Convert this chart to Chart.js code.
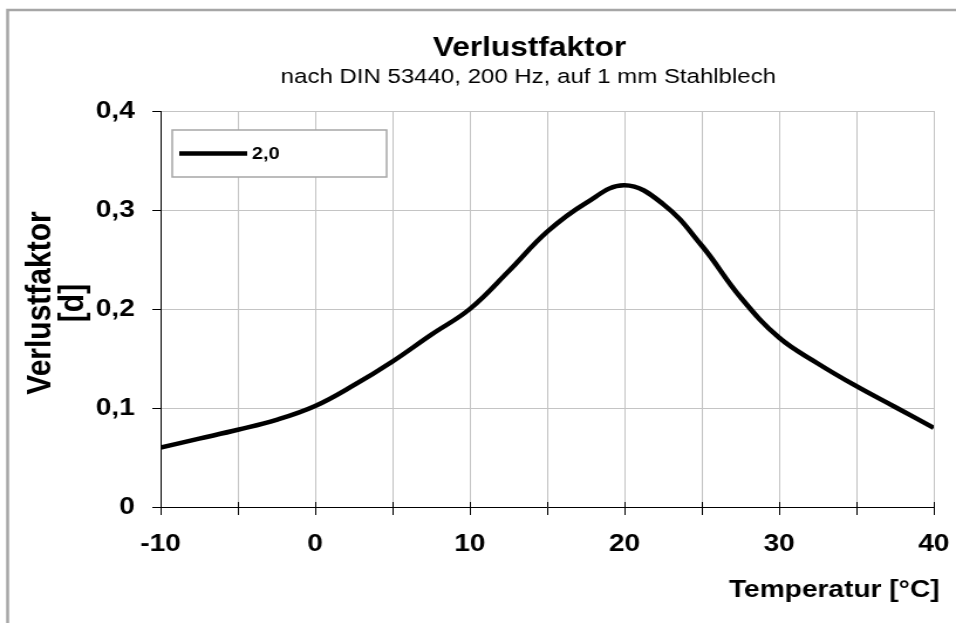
<!DOCTYPE html>
<html>
<head>
<meta charset="utf-8">
<title>Verlustfaktor</title>
<script src="https://cdn.jsdelivr.net/npm/chart.js@4"></script>
<style>
  html, body { margin: 0; padding: 0; background: #fff; overflow: hidden; }
</style>
</head>
<body>
<!-- drawn at 816 wide and stretched to 956, like the reference -->
<canvas id="chart" width="816" height="623" style="display:block;width:956px;height:623px"></canvas>
<script>
// ============================================================
// Data
// ============================================================
const temperatures = [-10, -7.5, -5, -2.5, 0, 2.5, 5, 7.5, 10, 12.5, 15, 17.5, 20, 22.5, 25, 27.5, 30, 32.5, 35, 37.5, 40];
const lossFactor   = [0.060, 0.069, 0.078, 0.088, 0.102, 0.123, 0.147, 0.174, 0.200, 0.238, 0.278, 0.307, 0.325, 0.306, 0.264, 0.212, 0.171, 0.145, 0.122, 0.101, 0.080];
const seriesLabel = '2,0';

const xTickValues = [-10, 0, 10, 20, 30, 40];
const xTickLabels = ['-10', '0', '10', '20', '30', '40'];
const yTickLabels = ['0', '0,1', '0,2', '0,3', '0,4'];

const titleText = 'Verlustfaktor';
const subtitleText = 'nach DIN 53440, 200 Hz, auf 1 mm Stahlblech';
const yTitleLines = ['Verlustfaktor', '[d]'];
const xTitleText = 'Temperatur [°C]';

const FONT = '"Liberation Sans", Arial, sans-serif';

// ============================================================
// Decorations: frame, titles, legend box
// ============================================================
const decor = {
  id: 'decor',
  beforeDraw(chart) {
    const { ctx, width, height } = chart;
    ctx.save();
    ctx.fillStyle = '#fff';
    ctx.fillRect(0, 0, width, height);
    ctx.strokeStyle = '#a6a6a6';
    ctx.lineWidth = 2.5;
    ctx.beginPath();
    ctx.moveTo(6.5, height);
    ctx.lineTo(6.5, 10);
    ctx.lineTo(width, 10);
    ctx.stroke();
    ctx.restore();
  },
  afterDraw(chart) {
    const { ctx, chartArea, scales } = chart;
    ctx.save();
    ctx.fillStyle = '#000';

    // titles
    ctx.textAlign = 'center';
    ctx.textBaseline = 'alphabetic';
    ctx.font = `bold 27px ${FONT}`;
    ctx.fillText(titleText, 452, 56);
    ctx.font = `20.5px ${FONT}`;
    ctx.fillText(subtitleText, 451, 83);

    // y axis title (two lines, rotated)
    ctx.font = `bold 30px ${FONT}`;
    yTitleLines.forEach((line, i) => {
      ctx.save();
      ctx.translate(43 + i * 28, 303);
      ctx.rotate(-Math.PI / 2);
      ctx.fillText(line, 0, 0);
      ctx.restore();
    });

    // x axis title
    ctx.textAlign = 'right';
    ctx.font = `bold 24px ${FONT}`;
    ctx.fillText(xTitleText, 802, 597);

    // tick marks crossing the x axis
    ctx.strokeStyle = '#000';
    ctx.lineWidth = 1;
    scales.x.ticks.forEach(t => {
      const px = Math.round(scales.x.getPixelForValue(t.value)) + 0.5;
      ctx.beginPath();
      ctx.moveTo(px, chartArea.bottom - 5);
      ctx.lineTo(px, chartArea.bottom);
      ctx.stroke();
    });

    // legend box
    const ds = chart.data.datasets[0];
    ctx.fillStyle = '#fff';
    ctx.fillRect(147, 130, 183, 47);
    ctx.strokeStyle = '#a6a6a6';
    ctx.lineWidth = 1.5;
    ctx.strokeRect(147, 130, 183, 47);
    ctx.strokeStyle = ds.borderColor;
    ctx.lineWidth = ds.borderWidth;
    ctx.beginPath();
    ctx.moveTo(153, 153.5);
    ctx.lineTo(211, 153.5);
    ctx.stroke();
    ctx.fillStyle = '#000';
    ctx.textAlign = 'left';
    ctx.textBaseline = 'middle';
    ctx.font = `bold 17px ${FONT}`;
    ctx.fillText(ds.label, 215, 154);

    ctx.restore();
  }
};

// ============================================================
// Chart
// ============================================================
const ctx = document.getElementById('chart');

new Chart(ctx, {
  type: 'line',
  data: {
    datasets: [{
      label: seriesLabel,
      data: temperatures.map((t, i) => ({ x: t, y: lossFactor[i] })),
      borderColor: '#000',
      borderWidth: 4.5,
      pointRadius: 0,
      fill: false,
      tension: 0.4
    }]
  },
  options: {
    responsive: false,
    animation: false,
    devicePixelRatio: 1,
    layout: { padding: { top: 111, right: 19, bottom: 0, left: 0 } },
    plugins: {
      legend: { display: false },
      title: { display: false },
      tooltip: { enabled: false }
    },
    scales: {
      x: {
        type: 'linear',
        min: -10,
        max: 40,
        afterFit: s => {
          s.height = 116;
          s.paddingLeft = 0;
          s.paddingRight = 0;
        },
        border: { color: '#000', width: 1 },
        grid: { color: '#c4c4c4', tickColor: '#000', tickLength: 8, lineWidth: 1 },
        ticks: {
          stepSize: 5,
          autoSkip: false,
          maxRotation: 0,
          padding: 15,
          color: '#000',
          font: { family: FONT, size: 24, weight: 'bold' },
          callback: (v) => {
            const i = xTickValues.indexOf(v);
            return i >= 0 ? xTickLabels[i] : '';
          }
        }
      },
      y: {
        min: 0,
        max: 0.4,
        afterFit: s => {
          s.width = 137;
          s.paddingTop = 0;
          s.paddingBottom = 0;
        },
        border: { color: '#000', width: 1 },
        grid: { color: '#c4c4c4', tickColor: '#000', tickLength: 7, lineWidth: 1 },
        ticks: {
          stepSize: 0.1,
          padding: 15,
          color: '#000',
          font: { family: FONT, size: 24, weight: 'bold' },
          callback: (v) => yTickLabels[Math.round(v * 10)]
        }
      }
    }
  },
  plugins: [decor]
});
</script>
</body>
</html>
